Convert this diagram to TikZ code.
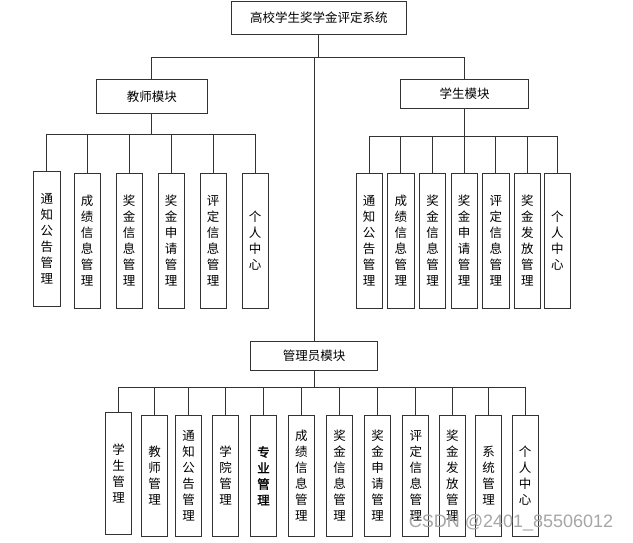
\documentclass[tikz,border=0pt]{standalone}
\usepackage{fontspec}
\newfontfamily\cjk{Noto Sans CJK SC}
\newfontfamily\cjkbold[FakeBold=1.5]{Noto Sans CJK SC}
\newfontfamily\wmfont{Liberation Sans}
\begin{document}
\begin{tikzpicture}[x=1pt,y=-1pt,
  line width=0.8pt,
  box/.style={draw=black!80, fill=white, rectangle, inner sep=0pt,
    font=\fontsize{12.5}{16}\selectfont\cjk, align=center},
  vbox/.style={box, minimum width=26.3pt, minimum height=#1},
  conn/.style={draw=black!80, line width=0.8pt}
]
\useasboundingbox (0,0) rectangle (633,542);

% root and modules
\node[box, minimum width=175.7pt, minimum height=33.7pt] (root) at (318.85,17.85) {高校学生奖学金评定系统};
\node[box, minimum width=111.7pt, minimum height=34pt] (tm) at (151.85,96.3) {教师模块};
\node[box, minimum width=127.6pt, minimum height=29pt] (sm) at (464.5,93.8) {学生模块};
\node[box, minimum width=126.6pt, minimum height=28.3pt] (am) at (314,355.85) {管理员模块};

% teacher children
\node[vbox=134.8pt] (t1) at (46.85,239.1) {通\\知\\公\\告\\管\\理};
\node[vbox=135pt] (t2) at (87.15,240.8) {成\\绩\\信\\息\\管\\理};
\node[vbox=135pt] (t3) at (129.15,240.8) {奖\\金\\信\\息\\管\\理};
\node[vbox=135pt] (t4) at (171.15,240.8) {奖\\金\\申\\请\\管\\理};
\node[vbox=135pt] (t5) at (213.15,240.8) {评\\定\\信\\息\\管\\理};
\node[vbox=135pt] (t6) at (255.15,240.8) {个\\人\\中\\心};

% student children
\node[vbox=134.5pt] (s1) at (369.15,241) {通\\知\\公\\告\\管\\理};
\node[vbox=134.5pt] (s2) at (400.85,241) {成\\绩\\信\\息\\管\\理};
\node[vbox=134.5pt] (s3) at (432.5,241) {奖\\金\\信\\息\\管\\理};
\node[vbox=134.5pt] (s4) at (464.15,241) {奖\\金\\申\\请\\管\\理};
\node[vbox=134.5pt] (s5) at (495.85,241) {评\\定\\信\\息\\管\\理};
\node[vbox=134.5pt] (s6) at (527.45,241) {奖\\金\\发\\放\\管\\理};
\node[vbox=134.5pt, minimum width=26.7pt] (s7) at (557.35,241) {个\\人\\中\\心};

% admin children
\node[vbox=121.7pt, minimum width=26pt] (a1) at (118.7,473.2) {学\\生\\管\\理};
\node[vbox=121.7pt, minimum width=26pt] (a2) at (154.7,475.8) {教\\师\\管\\理};
\node[vbox=121.7pt, minimum width=26pt] (a3) at (188.7,475.8) {通\\知\\公\\告\\管\\理};
\node[vbox=121.7pt, minimum width=26pt] (a4) at (225.7,475.8) {学\\院\\管\\理};
\node[vbox=121.7pt, minimum width=26pt, font=\fontsize{12.5}{16}\selectfont\cjkbold] (a5) at (263.5,475.8) {专\\业\\管\\理};
\node[vbox=121.7pt, minimum width=26pt] (a6) at (301.3,475.8) {成\\绩\\信\\息\\管\\理};
\node[vbox=121.7pt, minimum width=26pt] (a7) at (339.7,475.8) {奖\\金\\信\\息\\管\\理};
\node[vbox=121.7pt, minimum width=26pt] (a8) at (377.65,475.8) {奖\\金\\申\\请\\管\\理};
\node[vbox=121.7pt, minimum width=26pt] (a9) at (415.85,475.8) {评\\定\\信\\息\\管\\理};
\node[vbox=121.7pt, minimum width=26pt] (a10) at (452.3,475.8) {奖\\金\\发\\放\\管\\理};
\node[vbox=121.7pt, minimum width=26pt] (a11) at (488.7,475.8) {系\\统\\管\\理};
\node[vbox=121.7pt, minimum width=26pt] (a12) at (525,475.8) {个\\人\\中\\心};

% bus coordinates
\coordinate (mbus) at (0,57.3);
\coordinate (tbus) at (0,134.7);
\coordinate (sbus) at (0,136);
\coordinate (abus) at (0,387.3);

% main connectors
\draw[conn] (root.south) -- (root.south |- mbus) -| (tm.north);
\draw[conn] (root.south |- mbus) -| (sm.north);
\draw[conn] (root.south |- mbus) -| (am.north);

% teacher connectors
\foreach \c in {t1,t2,t3,t4,t5,t6}
  \draw[conn] (tm.south) -- (tm.south |- tbus) -| (\c.north);

% student connectors
\foreach \c in {s1,s2,s3,s4,s5,s6,s7}
  \draw[conn] (sm.south) -- (sm.south |- sbus) -| (\c.north);

% admin connectors
\foreach \c in {a1,a2,a3,a4,a5,a6,a7,a8,a9,a10,a11,a12}
  \draw[conn] (am.south) -- (am.south |- abus) -| (\c.north);

% watermark
\node[font=\fontsize{18}{20}\selectfont\wmfont, text=black!35, inner sep=0pt] (wm) at (511,523) {CSDN @2401\_85506012};
\end{tikzpicture}
\end{document}
